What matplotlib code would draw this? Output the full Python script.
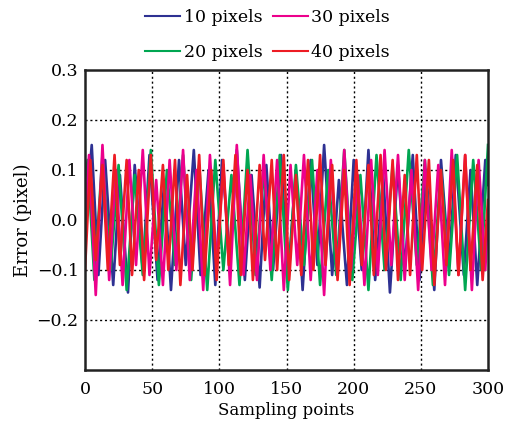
import matplotlib
matplotlib.use("Agg")
import matplotlib.pyplot as plt

# Extrema (vertex) positions and values
x_10 = [0, 5, 10, 15, 21, 26, 32, 37, 43, 48, 54, 59, 64, 70, 75, 81, 86, 92, 97, 102,
        108, 113, 119, 124, 130, 135, 140, 146, 151, 157, 162, 168, 173, 178, 184, 189, 195, 200, 206, 211,
        216, 222, 227, 233, 238, 244, 249, 254, 260, 265, 271, 276, 282, 287, 292, 298, 300]
y_10 = [-0.02, 0.15, -0.11, 0.12, -0.13, 0.09, -0.145, 0.11, -0.10, 0.13,
        -0.12, 0.08, -0.14, 0.12, -0.09, 0.14, -0.11, 0.10, -0.13, 0.12,
        -0.08, 0.14, -0.12, 0.09, -0.135, 0.11, -0.10, 0.13, -0.12, 0.10,
        -0.14, 0.12, -0.09, 0.15, -0.11, 0.08, -0.13, 0.12, -0.10, 0.14,
        -0.12, 0.09, -0.145, 0.11, -0.10, 0.13, -0.12, 0.10, -0.14, 0.12,
        -0.09, 0.13, -0.11, 0.10, -0.13, 0.12, 0.07]

x_20 = [0, 2, 7, 13, 19, 25, 31, 37, 43, 49, 55, 61, 67, 73, 79, 85, 91, 97, 103, 109,
        115, 121, 127, 133, 139, 145, 151, 157, 163, 169, 175, 181, 187, 193, 199, 205, 211, 217, 223, 229,
        235, 241, 247, 253, 259, 265, 271, 277, 283, 289, 295, 300]
y_20 = [0.08, 0.12, -0.12, 0.13, -0.10, 0.11, -0.14, 0.09, -0.11, 0.14,
        -0.13, 0.10, -0.09, 0.13, -0.12, 0.11, -0.14, 0.12, -0.10, 0.09,
        -0.13, 0.14, -0.11, 0.10, -0.12, 0.13, -0.14, 0.11, -0.09, 0.12,
        -0.13, 0.10, -0.11, 0.14, -0.12, 0.09, -0.14, 0.13, -0.10, 0.11,
        -0.12, 0.14, -0.09, 0.12, -0.13, 0.10, -0.11, 0.13, -0.14, 0.12,
        -0.10, 0.15]

x_30 = [0, 3, 8, 13, 18, 23, 28, 33, 38, 43, 48, 53, 58, 63, 68, 73, 78, 83, 88, 93,
        98, 103, 108, 113, 118, 123, 128, 133, 138, 143, 148, 153, 158, 163, 168, 173, 178, 183, 188, 193,
        198, 203, 208, 213, 218, 223, 228, 233, 238, 243, 248, 253, 258, 263, 268, 273, 278, 283, 288, 293,
        298, 300]
y_30 = [0.0, 0.13, -0.15, 0.15, -0.12, 0.10, -0.13, 0.12, -0.09, 0.14,
        -0.11, 0.08, -0.13, 0.12, -0.10, 0.14, -0.12, 0.10, -0.14, 0.13,
        -0.09, 0.11, -0.13, 0.15, -0.11, 0.09, -0.12, 0.13, -0.10, 0.12,
        -0.14, 0.11, -0.09, 0.13, -0.12, 0.10, -0.15, 0.12, -0.11, 0.14,
        -0.10, 0.09, -0.13, 0.12, -0.11, 0.14, -0.09, 0.13, -0.12, 0.10,
        -0.14, 0.12, -0.10, 0.11, -0.13, 0.14, -0.11, 0.13, -0.14, 0.12,
        -0.10, 0.02]

x_40 = [0, 4, 8, 13, 17, 22, 26, 31, 35, 40, 44, 49, 53, 58, 62, 67, 71, 76, 80, 85,
        89, 94, 98, 103, 107, 112, 116, 121, 125, 130, 134, 139, 143, 148, 152, 157, 161, 166, 170, 175,
        179, 184, 188, 193, 197, 202, 206, 211, 215, 220, 224, 229, 233, 238, 242, 247, 251, 256, 260, 265,
        269, 274, 278, 283, 287, 292, 296, 300]
y_40 = [-0.10, 0.12, -0.08, 0.11, -0.10, 0.13, -0.09, 0.12, -0.11, 0.10,
        -0.12, 0.13, -0.08, 0.11, -0.10, 0.12, -0.13, 0.09, -0.10, 0.13,
        -0.11, 0.10, -0.12, 0.12, -0.09, 0.13, -0.11, 0.10, -0.12, 0.11,
        -0.08, 0.12, -0.10, 0.13, -0.12, 0.09, -0.11, 0.12, -0.10, 0.13,
        -0.09, 0.11, -0.12, 0.10, -0.13, 0.12, -0.09, 0.11, -0.11, 0.13,
        -0.10, 0.12, -0.12, 0.09, -0.11, 0.13, -0.10, 0.12, -0.13, 0.10,
        -0.09, 0.12, -0.11, 0.13, -0.10, 0.11, -0.12, 0.04]

labels = ["10 pixels", "20 pixels", "30 pixels", "40 pixels"]
colors = ["#2e3192", "#00a651", "#ec008c", "#ed1c24"]

x_ticks = [0, 50, 100, 150, 200, 250, 300]
y_ticks = [-0.2, -0.1, 0.0, 0.1, 0.2, 0.3]
y_tick_labels = ["\u22120.2", "\u22120.1", "0.0", "0.1", "0.2", "0.3"]

plt.rcParams["font.family"] = ["DejaVu Serif"]
fs = 12.5

fig = plt.figure(figsize=(5.05, 4.25), dpi=100)
ax = fig.add_axes([85 / 505, 55 / 425, (488 - 85) / 505, (370 - 70) / 425])

series = [(x_10, y_10), (x_20, y_20), (x_30, y_30), (x_40, y_40)]
handles = []
for (xs, ys), lab, c in zip(series, labels, colors):
    h, = ax.plot(xs, ys, color=c, lw=1.9, label=lab)
    handles.append(h)

ax.set_xlim(0, 300)
ax.set_ylim(-0.3, 0.3)
ax.set_xticks(x_ticks)
ax.set_xticklabels([str(v) for v in x_ticks], fontsize=fs)
ax.set_yticks(y_ticks)
ax.set_yticklabels(y_tick_labels, fontsize=fs)
ax.tick_params(axis="y", length=0, pad=4.5)
ax.tick_params(axis="x", length=0, pad=8)

for v in x_ticks[1:-1]:
    ax.axvline(v, color="black", lw=1.0, ls=(0, (1.5, 2)), zorder=0)
for v in y_ticks[:-1]:
    ax.axhline(v, color="black", lw=1.0, ls=(0, (1.5, 2)), zorder=0)

for s in ax.spines.values():
    s.set_linewidth(1.8)
    s.set_color("#222222")

ax.set_xlabel("Sampling points", fontsize=12, labelpad=3)
ax.set_ylabel("Error (pixel)", fontsize=13, labelpad=3)

leg = fig.legend(handles, labels, loc="center", bbox_to_anchor=(0.53, 0.918), ncol=2,
                 frameon=False, fontsize=fs, handlelength=2.0, handletextpad=0.2,
                 columnspacing=0.6, labelspacing=1.05)
for lh in leg.get_lines():
    lh.set_linewidth(1.5)

fig.savefig("out.png", dpi=100)
